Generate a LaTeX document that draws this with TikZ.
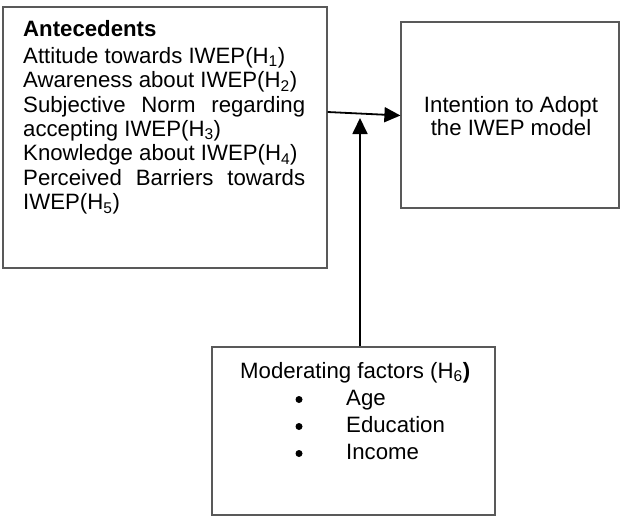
\documentclass[tikz,border=0pt]{standalone}
\usepackage{fontspec}
\setmainfont{Liberation Sans}
\usetikzlibrary{arrows.meta}
\begin{document}
\begin{tikzpicture}[x=1pt,y=-1pt,
  box/.style={draw=black!65, line width=1.2pt, inner sep=0pt},
  txt/.style={anchor=base west, inner sep=0pt, font=\fontsize{22.2}{24.5}\selectfont},
  ctxt/.style={inner sep=0pt, align=center, font=\fontsize{22.2}{23.5}\selectfont},
  dot/.style={circle, fill=black, inner sep=0pt, minimum size=7pt},
  arr/.style={line width=1.8pt, -{Triangle[length=16pt,width=15pt]}}]
\useasboundingbox (0,0) rectangle (639,522);
% boxes
\node[box, minimum width=324pt, minimum height=261pt] (ante) at (165,137.5) {};
\node[box, minimum width=218pt, minimum height=186pt] (intent) at (510,115) {};
\node[box, minimum width=283pt, minimum height=168pt] (mod) at (353.5,431) {};
% antecedents text
\node[txt] (l0) at (23,36) {\textbf{Antecedents}};
\node[txt] (l1) at (23,63) {Attitude towards IWEP(H\textsubscript{1})};
\node[txt] (l2) at (23,87.5) {Awareness about IWEP(H\textsubscript{2})};
\node[txt] (l3) at (23,112) {\makebox[282pt][s]{Subjective Norm regarding}};
\node[txt] (l4) at (23,136) {accepting IWEP(H\textsubscript{3})};
\node[txt] (l5) at (23,160.5) {Knowledge about IWEP(H\textsubscript{4})};
\node[txt] (l6) at (23,185) {\makebox[282pt][s]{Perceived Barriers towards}};
\node[txt] (l7) at (23,209.5) {IWEP(H\textsubscript{5})};
% intention text
\node[ctxt] (it) at (511,116) {Intention to Adopt\\the IWEP model};
% moderating text
\node[txt] (m0) at (240,378) {Moderating factors (H\textsubscript{6}\textbf{)}};
\node[dot] (b1) at (299,399.5) {};
\node[dot] (b2) at (299,426.5) {};
\node[dot] (b3) at (299,453.5) {};
\node[txt] (m1) at (346,405) {Age};
\node[txt] (m2) at (346,432) {Education};
\node[txt] (m3) at (346,459) {Income};
% connectors
\coordinate (a1) at (ante.east |- 0,112);
\coordinate (a2) at (intent.west |- 0,115.5);
\coordinate (a3) at (mod.north -| 360,0);
\coordinate (a4) at (360,118);
\draw[arr] (a1) -- (a2);
\draw[arr] (a3) -- (a4);
\end{tikzpicture}
\end{document}
